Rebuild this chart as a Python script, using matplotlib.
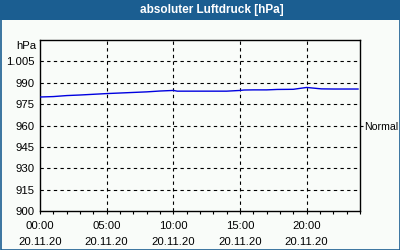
import matplotlib
matplotlib.use("Agg")
import matplotlib.pyplot as plt
from matplotlib.patches import Rectangle
from matplotlib.ticker import MultipleLocator, FixedLocator

plt.rcParams['lines.scale_dashes'] = False
plt.rcParams['font.family'] = ['Liberation Sans', 'DejaVu Sans']

title = "absoluter Luftdruck [hPa]"
hours = [0, 1, 2, 3, 4, 5, 6, 7, 8, 9, 10, 10.3, 11, 12, 13, 14, 15, 15.3, 16, 17, 17.8, 19, 20, 21.1, 22, 23, 23.85]
pressure = [980.0, 980.3, 981.0, 981.4, 981.9, 982.4, 982.8, 983.2, 983.6, 984.2, 984.6, 984.1, 984.1, 984.1, 984.1, 984.1, 984.6, 984.9, 985.0, 985.0, 985.3, 985.4, 986.7, 985.7, 985.6, 985.6, 985.6]
y_ticks = [900, 915, 930, 945, 960, 975, 990, 1005]
y_labels = ["900", "915", "930", "945", "960", "975", "990", "1.005"]
x_ticks = [0, 5, 10, 15, 20]
x_labels = ["00:00\n20.11.20", "05:00\n20.11.20", "10:00\n20.11.20", "15:00\n20.11.20", "20:00\n20.11.20"]
normal_value = 960
unit = "hPa"

blue = '#1b5e91'
bg = '#f9fcf9'
fs = 8.2
fig = plt.figure(figsize=(4, 2.5), dpi=100, facecolor=bg)

# title bar and frame
fig.patches.append(Rectangle((0, 1 - 20 / 250), 1, 20 / 250, transform=fig.transFigure,
                             facecolor=blue, edgecolor='none', zorder=0))
fig.patches.append(Rectangle((0.5 / 400, 0.5 / 250), 399 / 400, 249 / 250, transform=fig.transFigure,
                             facecolor='none', edgecolor=blue, lw=1.2, zorder=5))
fig.text(212 / 400, 1 - 10.5 / 250, title, color='white', fontsize=8.5, fontweight='bold',
         ha='center', va='center')

ax = fig.add_axes([40 / 400, 1 - 211 / 250, 320 / 400, 171 / 250])
ax.set_facecolor(bg)
ax.plot(hours, pressure, color='#0000e0', lw=1.0, zorder=3)
ax.set_xlim(0, 24)
ax.set_ylim(900, 1020)

for v in x_ticks[1:]:
    ax.axvline(v, color='black', lw=0.8, linestyle=(0, (2.4, 2.4)), zorder=1)
for v in y_ticks[1:]:
    ax.axhline(v, color='black', lw=0.8, linestyle=(0, (2.4, 2.4)), zorder=1)

ax.yaxis.set_major_locator(FixedLocator(y_ticks))
ax.set_yticklabels(y_labels)
ax.tick_params(axis='y', length=0, pad=4, labelsize=fs, colors='black')
ax.xaxis.set_major_locator(FixedLocator(x_ticks))
ax.set_xticklabels(x_labels, linespacing=1.75)
ax.xaxis.set_minor_locator(MultipleLocator(1))
ax.tick_params(axis='x', which='major', length=2.5, width=0.8, pad=5, labelsize=fs)
ax.tick_params(axis='x', which='minor', length=2.5, width=0.8)
for s in ax.spines.values():
    s.set_linewidth(1.0)

ax.text(-4 / 320 * 24, 1020 - 6 * 120 / 171, unit, fontsize=fs, ha='right', va='center')

ax2 = ax.twinx()
ax2.set_ylim(900, 1020)
ax2.yaxis.set_major_locator(FixedLocator([normal_value]))
ax2.set_yticklabels(["Normal"])
ax2.tick_params(axis='y', length=2, width=0.8, pad=0.8, labelsize=7.6)
for s in ax2.spines.values():
    s.set_visible(False)

fig.savefig("out.png", dpi=100, facecolor=bg)
